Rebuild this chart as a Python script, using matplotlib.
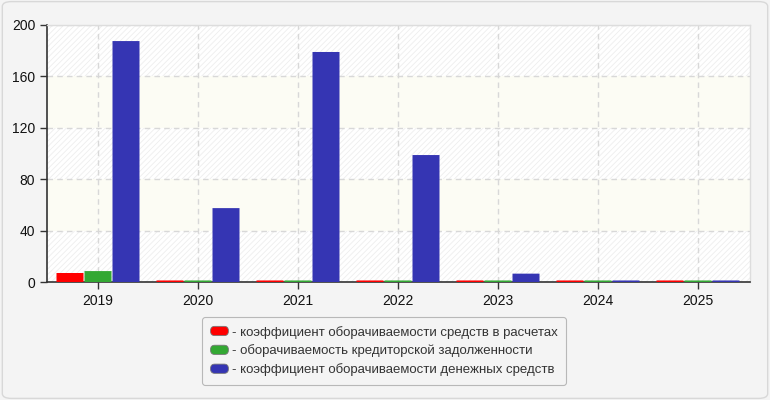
import matplotlib
matplotlib.use("Agg")
import matplotlib.pyplot as plt
import numpy as np
from matplotlib.patches import FancyBboxPatch, Patch
from matplotlib.legend_handler import HandlerPatch

years = ["2019", "2020", "2021", "2022", "2023", "2024", "2025"]
receivables_turnover = [7.0, 1.2, 1.2, 1.2, 1.2, 1.2, 1.2]
payables_turnover = [8.5, 1.2, 1.2, 1.2, 1.2, 1.2, 1.2]
cash_turnover = [187.5, 57.5, 179.0, 98.8, 6.5, 1.2, 1.2]
series_labels = [
    "- коэффициент оборачиваемости средств в расчетах",
    "- оборачиваемость кредиторской задолженности",
    "- коэффициент оборачиваемости денежных средств",
]
colors = ["#ff0000", "#33a833", "#3535b3"]
y_ticks = [0, 40, 80, 120, 160, 200]

plt.rcParams['font.family'] = ['Liberation Sans', 'DejaVu Sans']
plt.rcParams['hatch.linewidth'] = 0.6
plt.rcParams['hatch.color'] = '#ececec'

fig = plt.figure(figsize=(7.7, 4.0), dpi=100)
fig.patch.set_facecolor('#f4f4f4')
fig.patches.append(FancyBboxPatch((0.003, 0.004), 0.994, 0.992,
                                  boxstyle="round,pad=0,rounding_size=0.012",
                                  transform=fig.transFigure, facecolor='none',
                                  edgecolor='#d8d8d8', linewidth=1.0))

ax = fig.add_axes([47/770, 118/400, 703/770, 257/400])
ax.set_facecolor('white')

for lo in range(0, 200, 40):
    if (lo // 40) % 2 == 1:
        ax.axhspan(lo, lo + 40, facecolor='#fcfcf4', edgecolor='none', zorder=0)
    else:
        ax.axhspan(lo, lo + 40, facecolor='white', edgecolor='#eeeeee', hatch='//////',
                   linewidth=0, zorder=0)

x = np.arange(len(years))
w = 0.27
offs = [-0.28, 0.0, 0.28]
for vals, c, o in zip([receivables_turnover, payables_turnover, cash_turnover], colors, offs):
    ax.bar(x + o, vals, width=w, color=c, zorder=3, linewidth=0, snap=False)

ax.set_xlim(-0.51, 6.52)
ax.set_ylim(0, 200)
ax.set_yticks(y_ticks)
ax.set_xticks(x)
ax.set_xticklabels(years)
ax.tick_params(axis='both', labelsize=10, colors='#333333', labelcolor='#111111', length=5, width=1)
ax.grid(True, color='#d8d8d8', linestyle=(0, (4, 3)), linewidth=1, zorder=1)
ax.set_axisbelow(True)
for s in ['left', 'bottom']:
    ax.spines[s].set_color('#333333')
    ax.spines[s].set_linewidth(1.2)
    ax.spines[s].set_zorder(2.5)
for s in ['top', 'right']:
    ax.spines[s].set_color('#dddddd')
    ax.spines[s].set_linewidth(1)


class RoundHandler(HandlerPatch):
    def create_artists(self, legend, orig_handle, xdescent, ydescent, width, height, fontsize, trans):
        h = height * 1.0
        p = FancyBboxPatch((-xdescent, -ydescent + (height - h) / 2), width, h,
                           boxstyle="round,pad=0,rounding_size=3",
                           facecolor=orig_handle.get_facecolor(),
                           edgecolor='#777777', linewidth=0.6, transform=trans)
        return [p]


handles = [Patch(facecolor=c) for c in colors]
leg = fig.legend(handles, series_labels, loc='center', bbox_to_anchor=(384/770, 1 - 351/400),
                 fontsize=9.5, frameon=True, fancybox=True, handlelength=1.35, handletextpad=0.25,
                 labelspacing=0.45, borderpad=0.65, borderaxespad=0, labelcolor='#333333',
                 handler_map={Patch: RoundHandler()})
leg.get_frame().set_facecolor('#f4f4f4')
leg.get_frame().set_edgecolor('#aaaaaa')
leg.get_frame().set_linewidth(0.8)

fig.savefig('out.png', dpi=100, facecolor=fig.get_facecolor())
